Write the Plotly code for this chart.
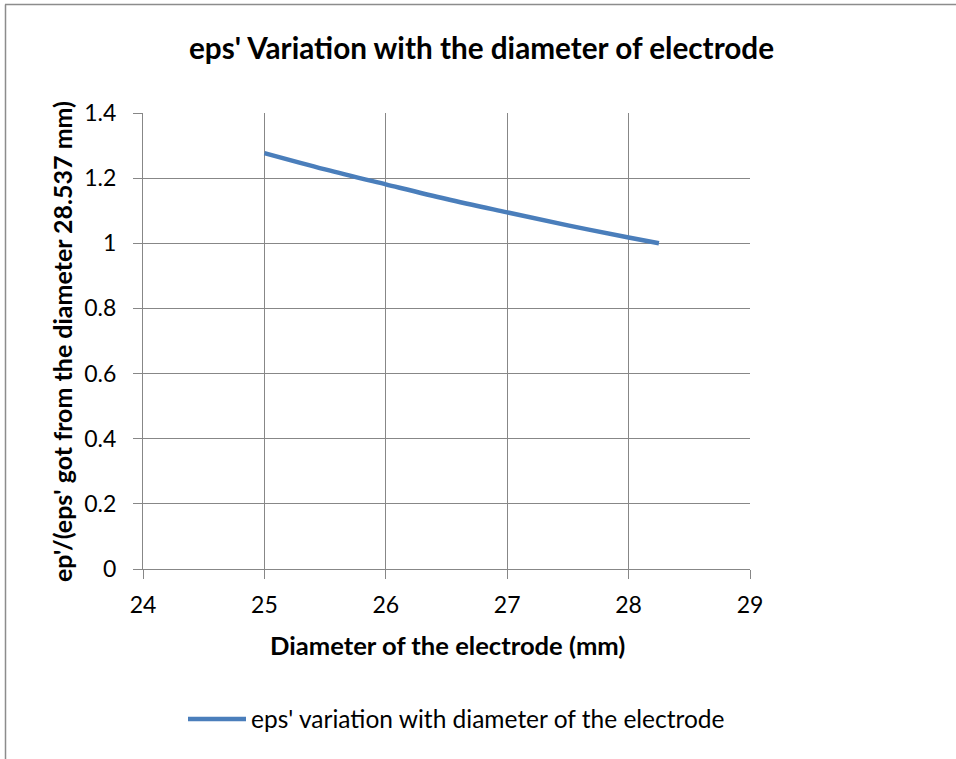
import plotly.graph_objects as go

# Data
diameter_mm = [25.0, 25.5, 26.0, 26.5, 27.0, 27.5, 28.0, 28.25]
eps_ratio = [1.277, 1.227, 1.181, 1.136, 1.095, 1.055, 1.018, 1.0]
x_ticks = [24, 25, 26, 27, 28, 29]
y_ticks = [0, 0.2, 0.4, 0.6, 0.8, 1, 1.2, 1.4]
y_tick_labels = ["0", "0.2", "0.4", "0.6", "0.8", "1", "1.2", "1.4"]

series_name = "eps' variation with diameter of the electrode"
title_text = "eps' Variation with the diameter of electrode"
x_title = "Diameter of the electrode (mm)"
y_title = "ep'/(eps' got from the diameter 28.537 mm)"

W, H = 956, 759
L, R, T, B = 143, 206, 113, 190
pw, ph = W - L - R, H - T - B

def px2x(px):
    return (px - L) / pw

def py2y(py):
    return (H - B - py) / ph

FONT = "Lato, Carlito, Calibri, sans-serif"
GRID = "#878787"

fig = go.Figure()
fig.add_trace(go.Scatter(
    x=diameter_mm, y=eps_ratio, mode="lines", name=series_name,
    line=dict(color="#4a7ebb", width=4.5, shape="spline"),
))

fig.update_layout(
    width=W, height=H,
    margin=dict(l=L, r=R, t=T, b=B),
    paper_bgcolor="white", plot_bgcolor="white",
    font=dict(family=FONT, size=22, color="black"),
    showlegend=True,
    legend=dict(
        orientation="h", x=px2x(183), y=py2y(719), xanchor="left", yanchor="middle",
        font=dict(size=24.5, family=FONT), bgcolor="rgba(0,0,0,0)",
        itemwidth=58,
    ),
    xaxis=dict(
        range=[24, 29], tickvals=x_ticks, ticktext=[str(v) for v in x_ticks],
        showgrid=True, gridcolor=GRID, gridwidth=1,
        showline=True, linecolor=GRID, linewidth=1,
        ticks="outside", ticklen=9, tickcolor=GRID,
        zeroline=False, tickfont=dict(size=23), ticklabelstandoff=6,
    ),
    yaxis=dict(
        range=[0, 1.4], tickvals=y_ticks, ticktext=y_tick_labels,
        showgrid=True, gridcolor=GRID, gridwidth=1,
        showline=True, linecolor=GRID, linewidth=1,
        ticks="outside", ticklen=9, tickcolor=GRID,
        zeroline=False, tickfont=dict(size=23), ticklabelstandoff=12,
    ),
    annotations=[
        dict(text="<b>" + title_text + "</b>", x=px2x(481), y=py2y(47),
             xref="paper", yref="paper", showarrow=False,
             xanchor="center", yanchor="middle", font=dict(size=29.7, family=FONT)),
        dict(text="<b>" + x_title + "</b>", x=px2x(447), y=py2y(645),
             xref="paper", yref="paper", showarrow=False,
             xanchor="center", yanchor="middle", font=dict(size=25.6, family=FONT)),
        dict(text="<b>" + y_title + "</b>", x=px2x(62), y=py2y(342),
             xref="paper", yref="paper", showarrow=False, textangle=-90,
             xanchor="center", yanchor="middle", font=dict(size=25, family=FONT)),
    ],
    shapes=[
        dict(type="line", xref="paper", yref="paper", x0=px2x(5), x1=px2x(956),
             y0=py2y(4.5), y1=py2y(4.5), line=dict(color="#8c8c8c", width=1.5)),
        dict(type="line", xref="paper", yref="paper", x0=px2x(5.5), x1=px2x(5.5),
             y0=py2y(4.5), y1=py2y(759), line=dict(color="#8c8c8c", width=1.5)),
    ],
)

fig.write_html("out.html", config={"displayModeBar": False},
               post_script="document.body.style.margin='0';")
